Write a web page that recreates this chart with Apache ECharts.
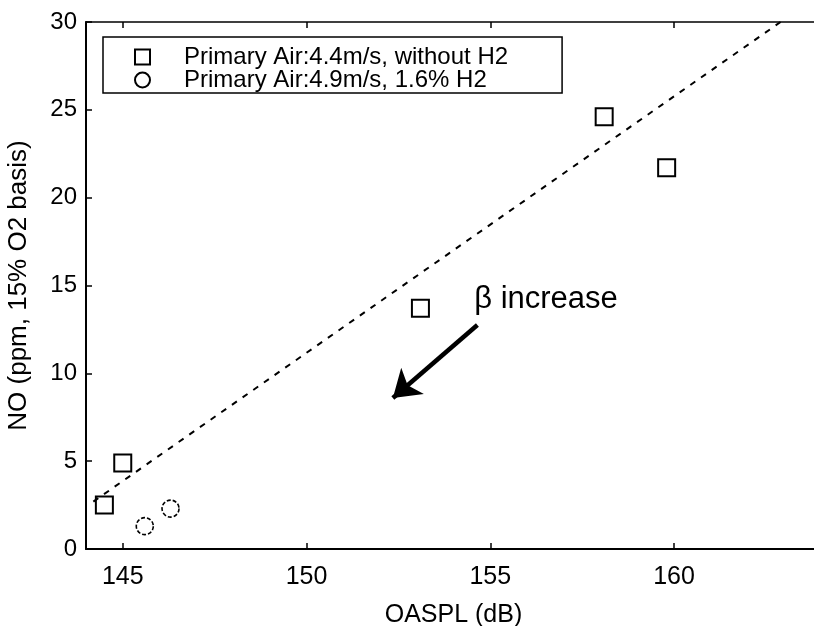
<!DOCTYPE html>
<html>
<head>
<meta charset="utf-8">
<script src="https://cdn.jsdelivr.net/npm/echarts@6/dist/echarts.min.js"></script>
<style>
  html, body { margin: 0; padding: 0; background: #fff; }
  #chart { width: 814px; height: 626px; }
</style>
</head>
<body>
<div id="chart"></div>
<script>
// OASPL (dB) vs NO emission (ppm, 15% O2 basis)
const seriesNames = ['Primary Air:4.4m/s, without H2', 'Primary Air:4.9m/s, 1.6% H2'];
const noH2Oaspl = [144.5, 145.0, 153.1, 158.1, 159.8];
const noH2NO    = [2.5, 4.9, 13.7, 24.6, 21.7];
const h2Oaspl   = [145.6, 146.3];
const h2NO      = [1.3, 2.3];
// trend line end points
const fitOaspl  = [144.2, 162.9];
const fitNO     = [2.7, 30];
// arrow showing the direction of increasing beta
const arrowFrom = [154.65, 12.75];
const arrowTo   = [152.35, 8.6];
const noteText  = 'β increase';
const notePos   = [154.55, 14.2];
const xTicks    = [145, 150, 155, 160];

const FONT = '"Liberation Sans", Arial, Helvetica, sans-serif';
const chart = echarts.init(document.getElementById('chart'), null, { renderer: 'canvas' });

const zip = (a, b) => a.map((v, i) => [v, b[i]]);

chart.setOption({
  animation: false,
  backgroundColor: '#fff',
  grid: { left: 86, top: 22, right: -7, bottom: 77, containLabel: false, outerBoundsMode: 'none' },
  legend: {
    data: seriesNames,
    orient: 'vertical',
    left: 103,
    top: 37,
    padding: [8, 54, 1, 31],
    itemGap: -1,
    itemWidth: 15,
    itemHeight: 15,
    borderColor: '#000',
    borderWidth: 1.5,
    backgroundColor: '#fff',
    textStyle: { fontFamily: FONT, fontSize: 24, color: '#000', padding: [0, 0, 0, 29] }
  },
  xAxis: [
    {
      type: 'value', min: 144, max: 164, position: 'bottom',
      name: 'OASPL (dB)', nameLocation: 'middle', nameGap: 54,
      nameTextStyle: { fontFamily: FONT, fontSize: 25, color: '#000' },
      splitLine: { show: false },
      axisLine: { lineStyle: { color: '#000', width: 2 } },
      axisTick: { inside: true, length: 6, customValues: xTicks, lineStyle: { color: '#000', width: 1.5 } },
      axisLabel: { customValues: xTicks, fontFamily: FONT, fontSize: 25, color: '#000', margin: 16 }
    },
    {
      type: 'value', min: 144, max: 164, position: 'top',
      splitLine: { show: false },
      axisLine: { lineStyle: { color: '#000', width: 1.5 } },
      axisTick: { inside: true, length: 6, customValues: xTicks, lineStyle: { color: '#000', width: 1.5 } },
      axisLabel: { show: false }
    }
  ],
  yAxis: {
    type: 'value', min: 0, max: 30, interval: 5,
    name: 'NO (ppm, 15% O2 basis)', nameLocation: 'middle', nameGap: 54, nameRotate: 90,
    nameTextStyle: { fontFamily: FONT, fontSize: 26, color: '#000' },
    splitLine: { show: false },
    axisLine: { lineStyle: { color: '#000', width: 2 } },
    axisTick: { inside: true, length: 6, lineStyle: { color: '#000', width: 1.5 } },
    axisLabel: { fontFamily: FONT, fontSize: 24, color: '#000', margin: 9 }
  },
  series: [
    {
      name: 'trend', type: 'line', data: zip(fitOaspl, fitNO),
      symbol: 'none', silent: true,
      lineStyle: { color: '#000', width: 2, type: [6, 7] }
    },
    {
      name: seriesNames[0], type: 'scatter', data: zip(noH2Oaspl, noH2NO),
      symbol: 'rect', symbolSize: 17,
      itemStyle: { color: '#fff', borderColor: '#000', borderWidth: 2, opacity: 1 }
    },
    {
      name: seriesNames[1], type: 'scatter', data: zip(h2Oaspl, h2NO),
      symbol: 'circle', symbolSize: 17,
      itemStyle: { color: '#fff', borderColor: '#000', borderWidth: 1.6, borderType: [4, 2], opacity: 1 }
    },
    {
      name: 'arrow', type: 'lines', coordinateSystem: 'cartesian2d', silent: true,
      symbol: ['none', 'arrow'], symbolSize: 26,
      lineStyle: { color: '#000', width: 4.5, opacity: 1, curveness: 0 },
      data: [{ coords: [arrowFrom, arrowTo] }]
    },
    {
      name: 'note', type: 'scatter', silent: true, symbol: 'circle', symbolSize: 1,
      itemStyle: { color: '#fff', opacity: 1 },
      data: [notePos],
      label: {
        show: true, position: 'right', distance: 0, formatter: noteText,
        fontFamily: FONT, fontSize: 31, color: '#000', opacity: 1
      }
    }
  ]
});
</script>
</body>
</html>
